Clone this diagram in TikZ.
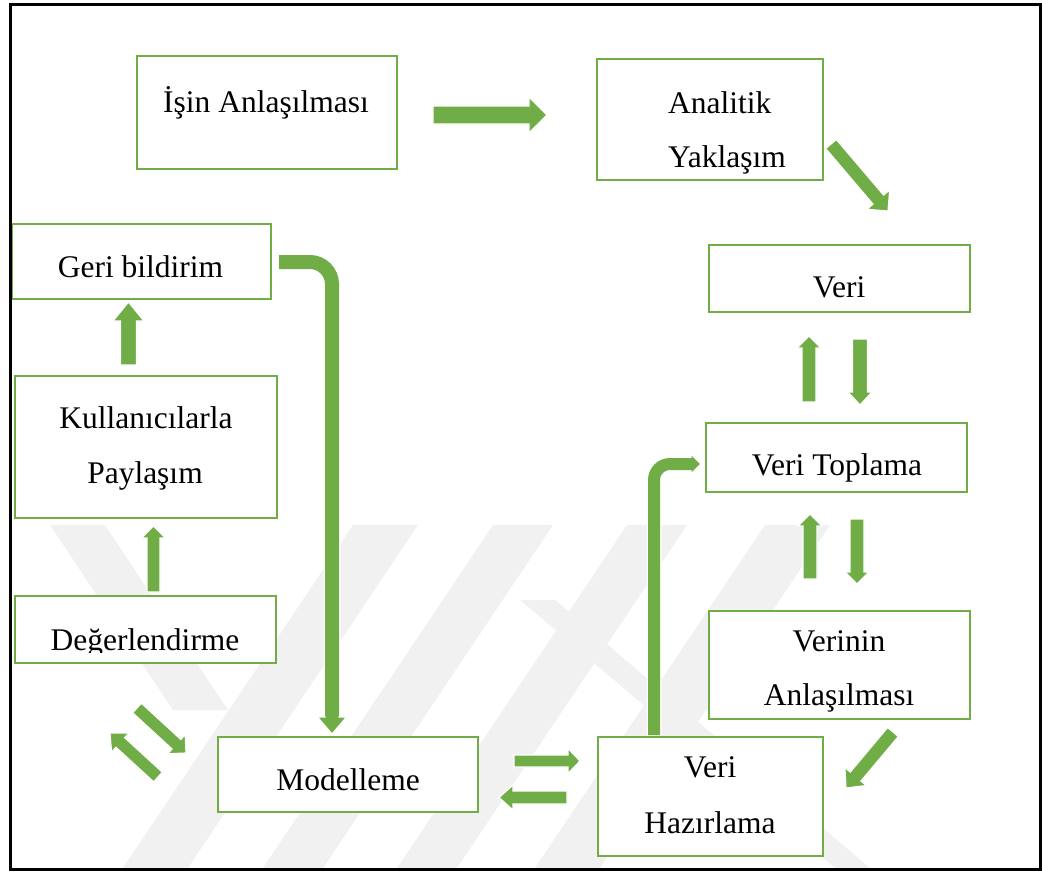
\documentclass[tikz,border=0pt]{standalone}
\usepackage{fontspec}
\setmainfont{Liberation Serif}
\usetikzlibrary{calc}
\definecolor{leaf}{RGB}{112,173,71}
\definecolor{wmark}{RGB}{241,241,241}
\tikzset{
  box/.style={draw=leaf, line width=2pt, fill=white, inner sep=0pt, rectangle},
  lbl/.style={anchor=base, inner sep=0pt, font=\fontsize{31.5}{36}\selectfont},
  lblw/.style={lbl, anchor=base west},
  shaft/.style={draw=leaf, line cap=butt},
  halo/.style={draw=white, line cap=butt},
}
% block arrow from #1 to tip #2: half shaft #3, half head #4, head length #5
\newcommand\blockarrow[5]{%
  \coordinate (ba-s) at (#1);
  \coordinate (ba-t) at (#2);
  \coordinate (ba-h) at ($(ba-t)!#5!(ba-s)$);
  \filldraw[fill=leaf, draw=white, line width=1.2pt, line join=miter]
    ($(ba-s)!#3!90:(ba-t)$) -- ($(ba-h)!#3!90:(ba-t)$) -- ($(ba-h)!#4!90:(ba-t)$)
    -- (ba-t) -- ($(ba-h)!#4!-90:(ba-t)$) -- ($(ba-h)!#3!-90:(ba-t)$)
    -- ($(ba-s)!#3!-90:(ba-t)$) -- cycle;
}
\begin{document}
\begin{tikzpicture}[x=1pt, y=-1pt]
\useasboundingbox (0,0) rectangle (1042,873);

% faint background stripes
\begin{scope}
  \clip (12,525) rectangle (1038,868);
  \fill[wmark] (353,525) -- (418,525) -- (188,868) -- (123,868) -- cycle;
  \fill[wmark] (493,525) -- (553,525) -- (323,868) -- (263,868) -- cycle;
  \fill[wmark] (627,525) -- (687,525) -- (457,868) -- (397,868) -- cycle;
  \fill[wmark] (765,525) -- (830,525) -- (600,868) -- (535,868) -- cycle;
  \fill[wmark] (50,525) -- (105,525) -- (228,710) -- (173,710) -- cycle;
  \fill[wmark] (520,600) -- (555,600) -- (870,868) -- (835,868) -- cycle;
\end{scope}

% boxes
\node[box, minimum width=260pt, minimum height=113pt] (isin) at (267,112.5) {};
\node[box, minimum width=226pt, minimum height=121pt] (anal) at (710,119.5) {};
\node[box, minimum width=261pt, minimum height=67pt]  (veri) at (839.5,278.5) {};
\node[box, minimum width=261pt, minimum height=69pt]  (topl) at (836.5,457.5) {};
\node[box, minimum width=261pt, minimum height=108pt] (anla) at (839.5,665) {};
\node[box, minimum width=225pt, minimum height=119pt] (hazr) at (710.5,796.5) {};
\node[box, minimum width=260pt, minimum height=75pt]  (modl) at (348,774.5) {};
\node[box, minimum width=261pt, minimum height=67pt]  (degr) at (145.5,629.5) {};
\node[box, minimum width=262pt, minimum height=142pt] (kull) at (146,447) {};
\node[box, minimum width=259pt, minimum height=75pt]  (geri) at (141.5,261.5) {};

% labels
\node[lbl]  (isin-a) at (266,112) {İşin Anlaşılması};
\node[lblw] (anal-a) at (668,113) {Analitik};
\node[lblw] (anal-b) at (668,167) {Yaklaşım};
\node[lbl]  (veri-a) at (839,297) {Veri};
\node[lbl]  (topl-a) at (837,475) {Veri Toplama};
\node[lbl]  (anla-a) at (839,651) {Verinin};
\node[lbl]  (anla-b) at (839,705) {Anlaşılması};
\node[lbl]  (hazr-a) at (710,777) {Veri};
\node[lbl]  (hazr-b) at (710,833) {Hazırlama};
\node[lbl]  (modl-a) at (348,790) {Modelleme};
\node[lbl]  (geri-a) at (140.5,277) {Geri bildirim};
\node[lbl]  (kull-a) at (146,428) {Kullanıcılarla};
\node[lbl]  (kull-b) at (145,483) {Paylaşım};
\begin{scope}
  \clip (degr.north west) rectangle ($(degr.south east)+(0,-11.5)$);
  \node[lbl] (degr-a) at (145,650) {Değerlendirme};
\end{scope}

% straight block arrows
\blockarrow{$(isin.east)+(35,2.5)$}{$(anal.west)+(-49,-4.5)$}{9pt}{18pt}{18pt}
\blockarrow{$(anal.south east)+(7,-37)$}{$(veri.north)+(48.5,-33)$}{7pt}{15pt}{15pt}
\blockarrow{$(topl.north)+(-27.5,-20)$}{$(veri.south)+(-30.5,23)$}{7pt}{12pt}{12pt}
\blockarrow{$(veri.south)+(20.5,26)$}{$(topl.north)+(23.5,-17)$}{7.5pt}{12pt}{13pt}
\blockarrow{$(anla.north)+(-29.5,-31)$}{$(topl.south)+(-26.5,21)$}{7pt}{12pt}{12pt}
\blockarrow{$(topl.south)+(20.5,26)$}{$(anla.north)+(17.5,-26)$}{7pt}{12pt}{12pt}
\blockarrow{$(anla.south)+(53.5,12)$}{$(hazr.east)+(22,-8.5)$}{7pt}{14pt}{15pt}
\blockarrow{$(modl.east)+(35,-13.5)$}{$(hazr.west)+(-17,-35.5)$}{6pt}{12.5pt}{12pt}
\blockarrow{$(hazr.west)+(-30,1)$}{$(modl.east)+(20,23)$}{6.5pt}{12.5pt}{14pt}
\blockarrow{$(degr.south)+(-8.5,44)$}{$(modl.west)+(-31,-21.5)$}{6.5pt}{13pt}{13pt}
\blockarrow{$(modl.west)+(-59,2.5)$}{$(degr.south)+(-35.5,69)$}{6.5pt}{13pt}{14pt}
\blockarrow{$(degr.north)+(8,-3)$}{$(kull.south)+(7.5,7)$}{6.5pt}{12pt}{12pt}
\blockarrow{$(kull.north)+(-17.5,-10)$}{$(geri.south)+(-13,2)$}{8pt}{15.5pt}{19pt}

% bent arrow: Geri bildirim -> Modelleme
\coordinate (g0) at ($(geri.east)+(7,0.5)$);
\coordinate (g1) at ($(modl.north)+(-16,-20)$);
\draw[halo, line width=17pt, rounded corners=22pt] (g0) -| (g1);
\blockarrow{$(modl.north)+(-16,-21)$}{$(modl.north)+(-16,-2)$}{7pt}{14.5pt}{17pt}
\draw[shaft, line width=14pt, rounded corners=22pt] (g0) -| (g1);

% bent arrow: Veri Hazirlama -> Veri Toplama
\coordinate (h0) at ($(hazr.north)+(-56.5,-1)$);
\coordinate (h1) at ($(topl.west)+(-13,6.5)$);
\draw[halo, line width=15pt, rounded corners=16pt] (h0) |- (h1);
\blockarrow{$(topl.west)+(-15,6.5)$}{$(topl.west)+(-4,6.5)$}{6pt}{10pt}{10pt}
\draw[shaft, line width=12pt, rounded corners=16pt] (h0) |- (h1);

% outer frame
\draw[line width=3pt] (10.7,4.3) rectangle (1040,869.3);
\end{tikzpicture}
\end{document}
